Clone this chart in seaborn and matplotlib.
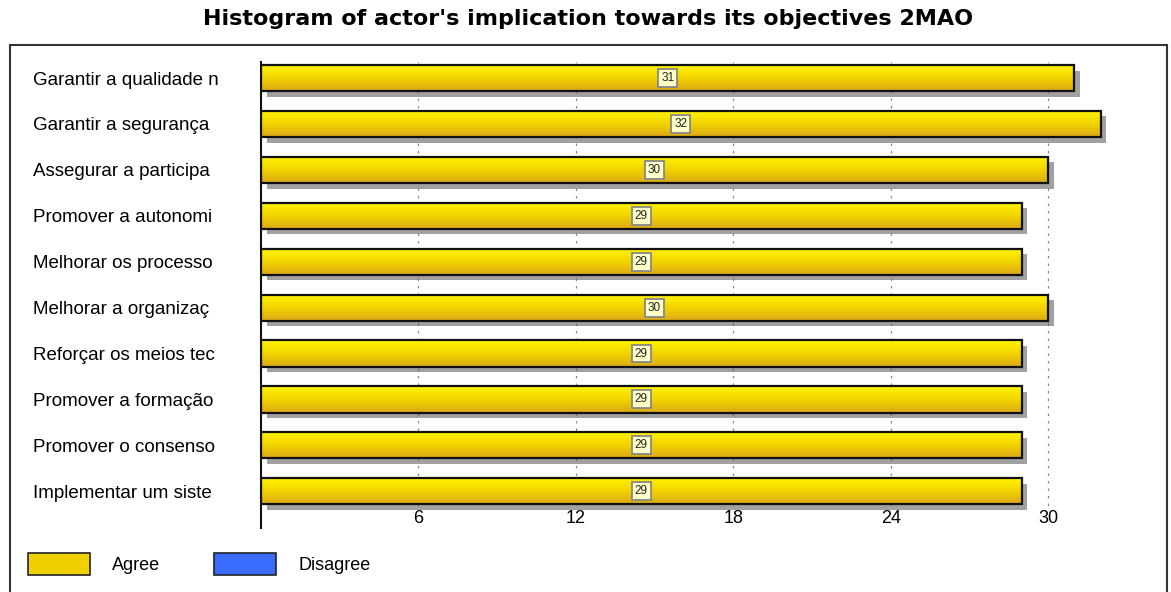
import numpy as np
import pandas as pd
import matplotlib
matplotlib.use("Agg")
import matplotlib.pyplot as plt
import seaborn as sns
from matplotlib.patches import Rectangle, Patch
import matplotlib.patheffects as pe
from matplotlib.colors import LinearSegmentedColormap

categories = [
    "Garantir a qualidade n",
    "Garantir a segurança",
    "Assegurar a participa",
    "Promover a autonomi",
    "Melhorar os processo",
    "Melhorar a organizaç",
    "Reforçar os meios tec",
    "Promover a formação",
    "Promover o consenso",
    "Implementar um siste",
]
agree = [31, 32, 30, 29, 29, 30, 29, 29, 29, 29]
xticks = [6, 12, 18, 24, 30]
title = "Histogram of actor's implication towards its objectives 2MAO"
legend_labels = ["Agree", "Disagree"]

df = pd.DataFrame({"objective": categories, "agree": agree})

sns.set_theme(style="white")
plt.rcParams["font.family"] = ["Liberation Sans", "DejaVu Sans"]
plt.rcParams["text.color"] = "black"
plt.rcParams["xtick.color"] = "black"
plt.rcParams["ytick.color"] = "black"

W, H = 1171, 592
fig = plt.figure(figsize=(W / 100, H / 100), dpi=100)
ax = fig.add_axes([261 / W, 1 - 528 / H, (1153 - 261) / W, (528 - 62) / H])

sns.barplot(data=df, y="objective", x="agree", orient="h", ax=ax,
            color="#f2d800", width=0.57, edgecolor="none", zorder=2)

gold = LinearSegmentedColormap.from_list("gold", ["#fff500", "#f2d400", "#dba916"])
grad = np.linspace(0, 1, 64).reshape(-1, 1)
for p in ax.patches:
    p.set_path_effects([pe.SimplePatchShadow(offset=(4, -4), shadow_rgbFace="#555555", alpha=0.55), pe.Normal()])
    x0, y0, w, h = p.get_x(), p.get_y(), p.get_width(), p.get_height()
    im = ax.imshow(grad, cmap=gold, aspect="auto", extent=(x0, x0 + w, y0 + h, y0),
                   origin="upper", zorder=2.5, interpolation="bilinear")
    im.set_clip_path(p)
    ax.add_patch(Rectangle((x0, y0), w, h, facecolor="none", edgecolor="#111111",
                           linewidth=1.6, zorder=3))

ax.bar_label(ax.containers[0], labels=[str(v) for v in agree], label_type="center",
             fontsize=8.5, color="#222222", zorder=4,
             bbox=dict(boxstyle="square,pad=0.25", facecolor="#ffffc8", edgecolor="#888888", linewidth=1.3))

ax.set_xlim(0, 34)
ax.set_ylim(9.8, -0.35)
ax.set_xticks(xticks)
ax.set_xticklabels([str(t) for t in xticks], fontsize=13)
ax.xaxis.grid(True, linestyle=(0, (2, 4)), color="#888888", linewidth=0.9, zorder=0)
ax.set_axisbelow(True)
ax.tick_params(axis="x", length=0, pad=-13)
ax.tick_params(axis="y", length=0, pad=164, labelsize=13.5)
for lbl in ax.get_xticklabels():
    lbl.set_bbox(dict(facecolor="white", edgecolor="none", pad=1.5))
for lbl in ax.get_yticklabels():
    lbl.set_horizontalalignment("left")
ax.set_xlabel("")
ax.set_ylabel("")
for s in ["top", "right", "bottom"]:
    ax.spines[s].set_visible(False)
ax.spines["left"].set_color("#111111")
ax.spines["left"].set_linewidth(1.5)
ax.patch.set_alpha(0)

fig.text(588 / W, 1 - 19 / H, title, ha="center", va="center", fontsize=16,
         fontweight="bold", family=["DejaVu Sans"])

fig.add_artist(Rectangle((10 / W, -0.05), (1167 - 10) / W, 1.05 - 45 / H, transform=fig.transFigure,
                         fill=False, edgecolor="#333333", linewidth=1.5))

handles = [Patch(facecolor="#f0d000", edgecolor="#222222", linewidth=1.2),
           Patch(facecolor="#3a6cff", edgecolor="#222222", linewidth=1.2)]
fig.legend(handles, legend_labels, loc="center left", bbox_to_anchor=(12 / W, 1 - 564 / H),
           ncol=2, frameon=False, fontsize=13, handlelength=3.4, handleheight=1.45,
           handletextpad=1.25, columnspacing=3.0)

fig.savefig("out.png", dpi=100)
